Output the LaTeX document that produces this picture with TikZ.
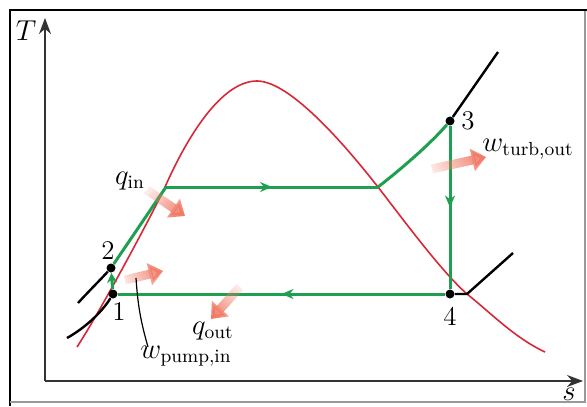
\documentclass[tikz,border=0pt]{standalone}
\usepackage{amsmath}
\usetikzlibrary{arrows.meta,decorations.markings,fadings}

\definecolor{cyclegreen}{RGB}{30,160,80}
\definecolor{domered}{RGB}{215,40,55}
\definecolor{heatcol}{RGB}{240,120,100}
\tikzfading[name=fadetail, left color=transparent!85, right color=transparent!0]

\begin{document}
\begin{tikzpicture}[x=0.5pt, y=-0.5pt, font=\fontsize{13.5}{16}\selectfont]
    % Define styles
    \tikzstyle{dot} = [circle, fill=black, inner sep=0pt, minimum size=4.5pt]
    \tikzstyle{cycle} = [draw=cyclegreen, line width=1.5pt]
    \tikzstyle{midarrow} = [postaction={decorate}, decoration={markings, mark=at position 0.5 with {\arrow{Stealth[length=6pt,width=5pt]}}}]
    \tikzstyle{isobar} = [draw=black, line width=1.2pt]
    \tikzstyle{dome} = [draw=domered, line width=0.8pt]
    \tikzstyle{heat} = [draw=heatcol, line width=4.5pt, -{Triangle[length=7pt,width=11pt]}, path fading=fadetail]
    \tikzstyle{axis} = [draw=black!80, line width=0.8pt, -{Stealth[length=8pt,width=6pt]}]

    \useasboundingbox (0,0) rectangle (587,406);
    % Frame
    \draw[line width=1pt] (10,406) -- (10,10) -- (587,10);
    \draw[black!40, line width=0.6pt] (10,402) -- (585,402) -- (585,11);

    % Axes
    \coordinate (origin) at (45,381);
    \coordinate (taxis) at (45,18);
    \coordinate (saxis) at (583,381);
    \draw[axis] (origin) -- (taxis);
    \draw[axis] (origin) -- (saxis);
    \node (tlabel) at (26,31) {$T$};
    \node (slabel) at (569,394) {$s$};

    % Saturation dome
    \draw[dome] (77,347) .. controls (100,312) and (154,211) .. (165,187)
        .. controls (188,135) and (222,81) .. (257,81)
        .. controls (290,81) and (345,145) .. (378,187)
        .. controls (405,222) and (442,272) .. (467,294)
        .. controls (492,314) and (515,338) .. (545,352);

    % Nodes
    \node[dot] (p1) at (113,294) {};
    \node[dot] (p2) at (111,268) {};
    \node[dot] (p3) at (450,121) {};
    \node[dot] (p4) at (450,294) {};
    \coordinate (satl) at (166,187);
    \coordinate (satv) at (378,187);
    \coordinate (crossr) at (467,294);
    \node (n1) at (119,312) {1};
    \node (n2) at (108,251) {2};
    \node (n3) at (468,121) {3};
    \node (n4) at (450,316) {4};
    \node (qin) at (130,181) {$q_{\text{in}}$};
    \node (qout) at (213,331) {$q_{\text{out}}$};
    \node (wpump) at (186,356) {$w_{\text{pump,in}}$};
    \node (wturb) at (528,149) {$w_{\text{turb,out}}$};

    % Isobars
    \coordinate (hpl) at (78,303);
    \coordinate (lpl) at (67,338);
    \coordinate (hpr) at (498,52);
    \coordinate (lpr) at (513,253);
    \draw[isobar] (hpl) .. controls (90,290) and (103,277) .. (p2);
    \draw[isobar] (lpl) .. controls (85,328) and (102,312) .. (p1);
    \draw[isobar] (p3) -- (hpr);
    \draw[isobar] (p4) -- (crossr) -- (lpr);

    % Cycle
    \draw[cycle, -{Stealth[length=5pt,width=5pt]}] (p1) -- (p2);
    \draw[cycle] (p2) -- (satl);
    \draw[cycle, midarrow] (satl) -- (satv);
    \draw[cycle] (satv) .. controls (405,166) and (432,142) .. (p3);
    \draw[cycle, midarrow] (p3) -- (p4);
    \draw[cycle, midarrow] (p4) -- (p1);

    % Heat and work arrows
    \coordinate (qint) at (147,190);
    \coordinate (qinh) at (185,216);
    \coordinate (wpt) at (125,280);
    \coordinate (wph) at (163,271);
    \coordinate (qoutt) at (240,287);
    \coordinate (qouth) at (211,319);
    \coordinate (wtt) at (432,169);
    \coordinate (wth) at (486,157);
    \draw[heat, fading angle=-34] (qint) -- (qinh);
    \draw[heat, fading angle=13] (wpt) -- (wph);
    \draw[heat, fading angle=-132] (qoutt) -- (qouth);
    \draw[heat, fading angle=12] (wtt) -- (wth);

    % Leader
    \coordinate (wtip) at (136,278);
    \coordinate (wend) at (148,347);
    \draw[line width=0.6pt] (wtip) to[bend right=6] (wend);
\end{tikzpicture}
\end{document}
